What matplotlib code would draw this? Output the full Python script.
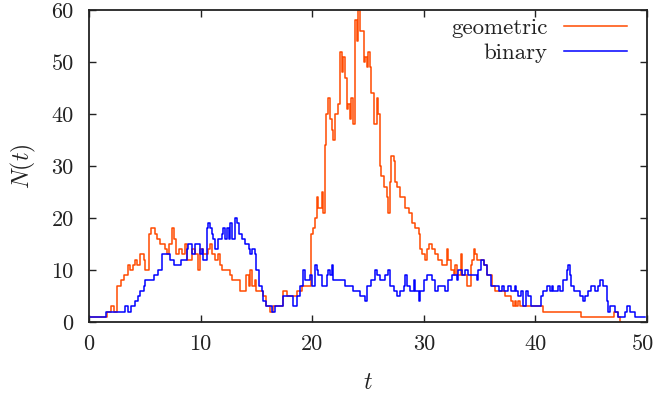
import matplotlib
matplotlib.use("Agg")
import matplotlib.pyplot as plt
import matplotlib.transforms as mtransforms

# geometric series (step times, values)
geo_t = [0, 1.6, 2.0, 2.2, 2.5, 2.9, 3.1, 3.5, 3.7, 3.9, 4.1, 4.3, 4.6, 4.9, 5.0, 5.4, 5.6, 5.9,
         6.1, 6.4, 6.8, 7.0, 7.2, 7.4, 7.6, 7.8, 8.1, 8.3, 8.6, 8.8, 9.2, 9.5, 9.8, 9.95, 10.25,
         10.7, 10.85, 11.0, 11.3, 11.6, 11.75, 11.9, 12.65, 12.8, 13.5, 14.1, 14.3, 14.4, 14.6,
         14.9, 15.0, 15.6, 15.9, 16.2, 16.5, 17.4, 17.7, 18.6, 19.1, 19.9, 20.1, 20.25, 20.4,
         20.55, 20.85, 21.0, 21.15, 21.2, 21.45, 21.6, 21.75, 21.9, 22.0, 22.35, 22.5, 22.65,
         22.8, 22.95, 23.1, 23.2, 23.4, 23.5, 23.7, 23.85, 24.0, 24.1, 24.3, 24.6, 24.7, 24.9,
         25.0, 25.2, 25.3, 25.5, 25.8, 25.9, 26.1, 26.2, 26.4, 26.7, 26.8, 27.0, 27.1, 27.3,
         27.45, 27.6, 27.9, 28.35, 28.65, 28.95, 29.25, 29.55, 29.7, 29.85, 30.1, 30.3, 30.45,
         30.75, 31.0, 31.3, 31.6, 32.1, 32.2, 32.4, 32.7, 32.8, 33.0, 33.3, 33.4, 33.9, 34.2,
         34.3, 34.5, 34.6, 34.8, 35.4, 35.7, 36.1, 36.4, 37.3, 37.8, 38.0, 38.15, 38.3, 38.45,
         38.6, 40.7, 44.1, 47.0, 47.4, 47.6, 47.7]
geo_n = [1, 2, 3, 2, 7, 8, 9, 11, 10, 11, 12, 11, 13, 12, 10, 17, 18, 17,
         16, 15, 14, 13, 15, 18, 16, 13, 14, 13, 15, 12, 14, 13, 10, 14, 13,
         14, 15, 13, 12, 13, 11, 10, 9, 8, 6, 9, 7, 10, 7,
         8, 6, 5, 3, 2, 3, 6, 5, 6, 7, 17, 18, 20, 24,
         22, 25, 21, 34, 40, 43, 39, 37, 35, 40, 42, 52, 48,
         51, 47, 41, 42, 39, 43, 38, 58, 54, 60, 56, 50, 51, 49,
         52, 49, 44, 38, 43, 40, 30, 28, 26, 24, 21, 27, 32, 31,
         27, 26, 24, 22, 21, 19, 18, 17, 14, 13, 12, 14, 15,
         14, 13, 12, 11, 14, 12, 10, 9, 11, 9, 13, 9, 7, 11,
         12, 14, 13, 12, 11, 9, 7, 6, 5, 4, 3, 4, 3, 4,
         3, 2, 1, 2, 1, 0, 0]

# binary series (step times, values)
bin_t = [0, 1.5, 3.2, 3.5, 3.8, 4.1, 4.4, 4.6, 4.9, 5.0, 5.8, 6.2, 6.5, 7.3, 7.6, 8.2, 8.75,
         8.9, 9.2, 9.5, 9.95, 10.1, 10.25, 10.55, 10.7, 10.85, 11.0, 11.15, 11.3, 11.6, 11.9,
         12.05, 12.2, 12.35, 12.5, 12.65, 12.8, 13.1, 13.25, 13.4, 13.7, 14.0, 14.3, 14.4,
         14.6, 14.9, 15.0, 15.2, 15.5, 15.6, 15.9, 16.4, 16.7, 17.4, 18.3, 18.6, 18.9, 19.2,
         19.35, 19.8, 19.95, 20.25, 20.4, 20.55, 20.85, 21.3, 21.45, 21.6, 21.75, 21.9, 22.95,
         23.7, 24.3, 24.7, 24.9, 25.3, 25.6, 25.8, 26.1, 26.5, 26.8, 27.0, 27.3, 27.6, 27.9,
         28.2, 28.35, 28.5, 28.8, 29.1, 29.25, 29.55, 29.7, 30.0, 30.3, 30.75, 31.0, 31.3,
         31.9, 32.2, 32.5, 33.0, 33.1, 33.4, 33.7, 34.0, 34.8, 34.9, 35.1, 35.4, 35.7, 36.0,
         36.7, 37.0, 37.2, 37.5, 37.8, 38.15, 38.3, 38.45, 38.75, 38.9, 39.2, 39.35, 39.65,
         40.5, 40.7, 41.0, 41.3, 41.45, 41.6, 42.0, 42.2, 42.5, 42.8, 42.9, 43.1, 43.2, 43.5,
         44.0, 44.3, 44.45, 44.7, 45.0, 45.3, 45.6, 45.8, 46.1, 46.4, 46.5, 46.7, 47.1, 47.4,
         48.0, 48.2, 48.5, 48.9, 49.8]
bin_n = [1, 2, 3, 2, 3, 4, 5, 6, 7, 8, 9, 10, 13, 12, 11, 12, 14,
         15, 13, 15, 13, 14, 12, 18, 19, 18, 17, 16, 14, 16, 17,
         18, 16, 18, 16, 19, 16, 20, 19, 17, 16, 15, 14, 13,
         14, 13, 10, 7, 6, 4, 3, 2, 3, 5, 3, 5, 7, 10,
         8, 9, 7, 11, 10, 9, 7, 9, 10, 9, 11, 8, 7,
         6, 5, 4, 7, 8, 10, 9, 8, 9, 10, 7, 6, 5, 6,
         7, 9, 7, 6, 8, 6, 4, 6, 8, 9, 8, 6, 7,
         6, 8, 9, 8, 10, 9, 10, 9, 8, 10, 12, 11, 9, 7,
         6, 7, 6, 7, 6, 7, 6, 5, 6, 3, 6, 5, 3,
         5, 6, 7, 6, 7, 6, 7, 6, 8, 10, 11, 9, 7, 6,
         5, 4, 5, 6, 7, 6, 7, 8, 7, 4, 2, 3, 2, 1,
         2, 3, 2, 1, 1]

series_labels = ["geometric", "binary"]
x_ticks = [0, 10, 20, 30, 40, 50]
y_ticks = [0, 10, 20, 30, 40, 50, 60]

plt.rcParams['font.family'] = 'serif'
plt.rcParams['font.serif'] = ['cmr10']
plt.rcParams['mathtext.fontset'] = 'cm'
plt.rcParams['axes.formatter.use_mathtext'] = True

fig = plt.figure(figsize=(6.56, 3.96), dpi=100)
ax = fig.add_axes([89/656, (396-322)/396, (647-89)/656, (322-10)/396])

ax.plot(geo_t, geo_n, drawstyle='steps-post', color='#ff4a00', lw=1.1, label=series_labels[0])
ax.plot(bin_t, bin_n, drawstyle='steps-post', color='#0000ff', lw=1.1, label=series_labels[1])

ax.set_xlim(0, 50)
ax.set_ylim(0, 60)
ax.set_xticks(x_ticks)
ax.set_yticks(y_ticks)
ax.set_xticklabels([str(v) for v in x_ticks])
ax.set_yticklabels([str(v) for v in y_ticks])
ax.tick_params(direction='in', length=5, width=1, top=True, right=True, labelsize=16,
               color='#222222', labelcolor='#222222')
ax.tick_params(axis='x', pad=9)
ax.tick_params(axis='y', pad=11)
for s in ax.spines.values():
    s.set_linewidth(1.3)
    s.set_color('#222222')

# nudge the last x tick label slightly left so it stays inside the figure
last = ax.get_xticklabels()[-1]
last.set_transform(last.get_transform() + mtransforms.ScaledTranslation(-3/72, 0, fig.dpi_scale_trans))

ax.set_xlabel('$t$', fontsize=17, labelpad=13, color='#222222')
ax.set_ylabel('$N(t)$', fontsize=17, labelpad=10, color='#222222')

leg = ax.legend(loc='upper right', frameon=False, markerfirst=False, fontsize=16.5,
                handlelength=2.75, borderaxespad=0.0, labelspacing=0.22, handletextpad=0.7,
                bbox_to_anchor=(0.980, 1.005))
for t in leg.get_texts():
    t.set_ha('right')
    t.set_color('#222222')

fig.savefig('out.png', dpi=100)
